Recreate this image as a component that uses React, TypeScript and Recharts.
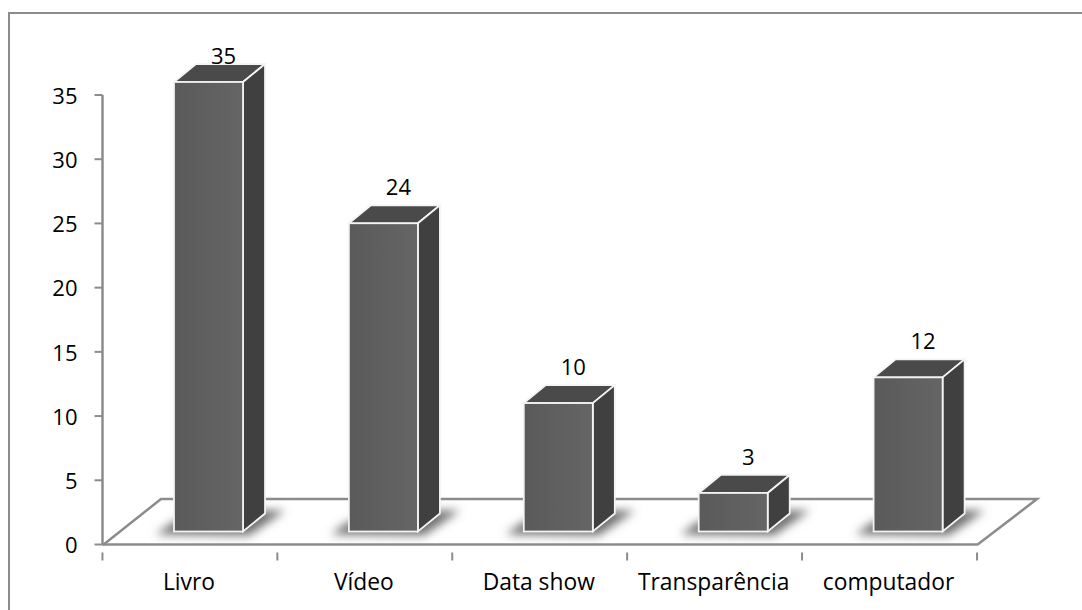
import React from 'react';
import { BarChart, Bar, XAxis, YAxis } from 'recharts';

const categories = ['Livro', 'Vídeo', 'Data show', 'Transparência', 'computador'];
const seriesValues = [35, 24, 10, 3, 12];
const yTicks = [0, 5, 10, 15, 20, 25, 30, 35];

const chartData = categories.map((name, i) => ({ name, value: seriesValues[i] }));

const AXIS = '#8c8c8c';
const FONT = '"Open Sans", sans-serif';
const DEPTH_X = 22;
const DEPTH_Y = 18;
const LIFT = 13; // bars stand on the floor, above the axis line
const SHIFT = 18.5; // and towards the back of it

const Bar3D = ({ x, y, width, height, value }: any) => {
  const left = x + SHIFT;
  const right = left + width;
  const top = y - LIFT;
  const bottom = top + height;
  const pts = (list: number[][]) => list.map(p => p.join(',')).join(' ');
  const labelY = Math.max(55, top - 37);
  return (
    <g>
      <polygon
        points={pts([
          [left - 18, bottom + 3],
          [left, bottom - 10],
          [right + DEPTH_X, bottom - DEPTH_Y - 3],
          [right + DEPTH_X + 20, bottom - DEPTH_Y - 3],
          [right + 6, bottom + 4],
        ])}
        fill="#707070"
        filter="url(#floorShadow)"
      />
      <polygon
        points={pts([[left, top], [left + DEPTH_X, top - DEPTH_Y], [right + DEPTH_X, top - DEPTH_Y], [right, top]])}
        fill="#4a4a4a"
        stroke="#f4f4f4"
        strokeWidth={1.75}
      />
      <polygon
        points={pts([[right, top], [right + DEPTH_X, top - DEPTH_Y], [right + DEPTH_X, bottom - DEPTH_Y], [right, bottom]])}
        fill="#404040"
        stroke="#f4f4f4"
        strokeWidth={1.75}
      />
      <rect x={left} y={top} width={width} height={height} fill="url(#barFront)" stroke="#f4f4f4" strokeWidth={1.75} />
      <text x={left + width / 2 + 15} y={labelY} textAnchor="middle" dominantBaseline="central" fontSize={22} fontFamily={FONT} fill="#000">
        {value}
      </text>
    </g>
  );
};

const CategoryTick = ({ x, y, payload, index }: any) => {
  const band = 175;
  return (
    <g>
      <line x1={x - band / 2} x2={x - band / 2} y1={y} y2={y + 8} stroke={AXIS} strokeWidth={2} />
      {index === categories.length - 1 && (
        <line x1={x + band / 2} x2={x + band / 2} y1={y} y2={y + 8} stroke={AXIS} strokeWidth={2} />
      )}
      <text x={x - 1} y={581} textAnchor="middle" dominantBaseline="central" fontSize={22.8} fontFamily={FONT} fill="#000">
        {payload.value}
      </text>
    </g>
  );
};

export default function App() {
  return (
    <div style={{ position: 'absolute', left: 0, top: 0, width: 1082, height: 610, background: '#fff' }}>
      <div style={{ position: 'absolute', left: 8, top: 12, width: 1074, height: 598, borderLeft: `2px solid ${AXIS}`, borderTop: `2px solid ${AXIS}`, boxSizing: 'border-box' }} />
      <BarChart
        width={1082}
        height={610}
        data={chartData}
        margin={{ top: 95, right: 105, bottom: 0, left: 0 }}
        barSize={69}
        style={{ position: 'absolute', left: 0, top: 0 }}
      >
        <defs>
          <linearGradient id="barFront" x1="0" y1="0" x2="1" y2="0">
            <stop offset="0%" stopColor="#5a5a5a" />
            <stop offset="100%" stopColor="#656565" />
          </linearGradient>
          <filter id="floorShadow" x="-30%" y="-50%" width="160%" height="200%">
            <feGaussianBlur stdDeviation="5" />
          </filter>
        </defs>
        <polyline
          points="103,545 161,499 1037,499 977,545"
          fill="none"
          stroke={AXIS}
          strokeWidth={2.5}
        />
        <XAxis
          dataKey="name"
          height={65.5}
          interval={0}
          axisLine={{ stroke: AXIS, strokeWidth: 2.5 }}
          tickLine={false}
          tick={<CategoryTick />}
        />
        <YAxis
          width={102.5}
          domain={[0, 35]}
          ticks={yTicks}
          interval={0}
          axisLine={{ stroke: AXIS, strokeWidth: 2.5 }}
          tickLine={{ stroke: AXIS, strokeWidth: 2 }}
          tickSize={8}
          tickMargin={17}
          tick={{ fill: '#000', fontSize: 22, fontFamily: FONT, dy: 1 }}
        />
        <Bar dataKey="value" shape={<Bar3D />} isAnimationActive={false} />
      </BarChart>
    </div>
  );
}
